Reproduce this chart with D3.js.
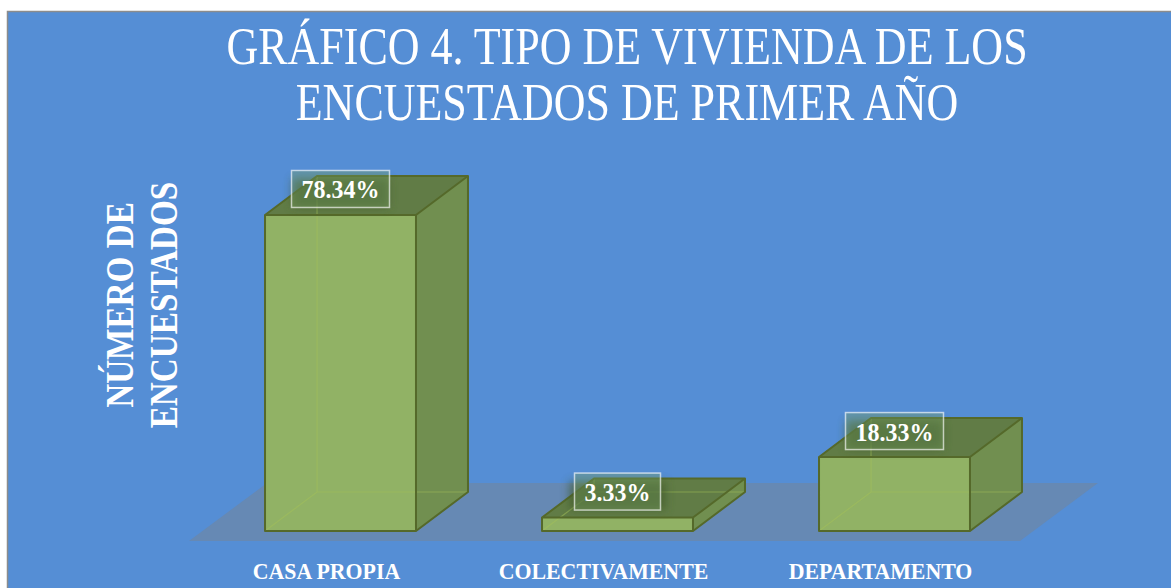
<!DOCTYPE html>
<html>
<head>
<meta charset="utf-8">
<script src="https://cdn.jsdelivr.net/npm/d3@7"></script>
<style>body{margin:0;background:#fff;overflow:hidden;}</style>
</head>
<body>
<script>
// datos
var categories = ["CASA PROPIA", "COLECTIVAMENTE", "DEPARTAMENTO"];
var values = [78.34, 3.33, 18.33];
var titleLines = ["GRÁFICO 4. TIPO DE VIVIENDA DE LOS", "ENCUESTADOS DE PRIMER AÑO"];
var axisTitleLines = ["NÚMERO DE", "ENCUESTADOS"];

var width = 1171, height = 588;
var depthX = 52, depthY = 39;   // profundidad de las barras 3D
var serif = "'Liberation Serif', 'DejaVu Serif', serif";

var svg = d3.select("body").append("svg")
    .attr("width", width)
    .attr("height", height);

var defs = svg.append("defs");
defs.append("filter").attr("id", "blur")
    .attr("x", "-50%").attr("y", "-50%").attr("width", "200%").attr("height", "200%")
  .append("feGaussianBlur").attr("stdDeviation", 5);

// estrecha el texto (la fuente original es mas condensada)
function condense(sel, f) {
    sel.each(function() {
        var w = this.getComputedTextLength();
        d3.select(this).attr("textLength", w * f).attr("lengthAdjust", "spacingAndGlyphs");
    });
}

// fondo del grafico
svg.append("rect")
    .attr("x", 7.5).attr("y", 11.5)
    .attr("width", width + 20).attr("height", height + 20)
    .attr("fill", "#558ed5")
    .attr("stroke", "#8c8c8c")
    .attr("stroke-width", 1.5);

var x = d3.scaleBand()
    .domain(categories)
    .range([202, 1033])
    .paddingInner(0.455)
    .paddingOuter(0.2275);

var y = d3.scaleLinear()
    .domain([0, 100])
    .range([531, 127.6]);

// piso
var x0 = x.range()[0], x1 = x.range()[1], y0 = y(0);
var floor = [[x0 - 13, y0 + 10], [x1 - 13, y0 + 10], [x1 + 65, y0 - 48], [x0 + 65, y0 - 48]];
svg.append("path")
    .attr("d", "M" + floor.join("L") + "Z")
    .attr("fill", "#6689b4");

var bw = x.bandwidth();

var bars = svg.selectAll(".bar")
    .data(categories)
    .enter().append("g")
    .attr("class", "bar");

function poly(pts) { return "M" + pts.join("L") + "Z"; }

bars.each(function(c, i) {
    var g = d3.select(this);
    var l = x(c), r = l + bw, t = y(values[i]), b = y(0);
    // cara superior
    g.append("path")
        .attr("d", poly([[l, t], [r, t], [r + depthX, t - depthY], [l + depthX, t - depthY]]))
        .attr("fill", "#617c46");
    // cara lateral
    g.append("path")
        .attr("d", poly([[r, t], [r + depthX, t - depthY], [r + depthX, b - depthY], [r, b]]))
        .attr("fill", "#718f50");
    // cara frontal
    g.append("rect")
        .attr("x", l).attr("y", t)
        .attr("width", bw).attr("height", b - t)
        .attr("fill", "#91b265");
    // aristas ocultas
    g.append("path")
        .attr("d", "M" + [l, b] + "L" + [l + depthX, b - depthY] + "L" + [r + depthX, b - depthY]
            + "M" + [l + depthX, b - depthY] + "L" + [l + depthX, t - depthY])
        .attr("fill", "none")
        .attr("stroke", "#a3c05a")
        .attr("stroke-opacity", 0.55)
        .attr("stroke-width", 1.2);
    // contorno
    g.append("path")
        .attr("d", "M" + [l, b] + "L" + [l, t] + "L" + [l + depthX, t - depthY] + "L" + [r + depthX, t - depthY]
            + "L" + [r + depthX, b - depthY] + "L" + [r, b] + "Z"
            + "M" + [l, t] + "L" + [r, t] + "L" + [r, b]
            + "M" + [r, t] + "L" + [r + depthX, t - depthY])
        .attr("fill", "none")
        .attr("stroke", "#55692a")
        .attr("stroke-width", 2)
        .attr("stroke-linejoin", "round");

    // etiqueta de valor
    var cx = l + bw / 2, cy = t - 26;
    g.append("rect")
        .attr("x", cx - 48).attr("y", cy - 10)
        .attr("width", 96).attr("height", 28)
        .attr("fill", "#3f5a2c")
        .attr("opacity", 0.7)
        .attr("filter", "url(#blur)");
    var lab = g.append("text")
        .attr("x", cx).attr("y", cy + 9.5)
        .attr("text-anchor", "middle")
        .attr("font-family", serif)
        .attr("font-weight", "bold")
        .attr("font-size", 25)
        .attr("fill", "#fff")
        .text(d3.format(".2f")(values[i]) + "%");
    condense(lab, 0.96);
    var tw = lab.node().getComputedTextLength();
    g.insert("rect", "text")
        .attr("x", cx - tw / 2 - 10).attr("y", cy - 18.5)
        .attr("width", tw + 20).attr("height", 37)
        .attr("fill", "rgba(120,160,100,0.35)")
        .attr("stroke", "rgba(255,255,255,0.65)")
        .attr("stroke-width", 1.5);
});

// etiquetas de categorias
svg.selectAll(".cat")
    .data(categories)
    .enter().append("text")
    .attr("class", "cat")
    .attr("x", function(d) { return x(d) + bw / 2 - 14; })
    .attr("y", 579)
    .attr("text-anchor", "middle")
    .attr("font-family", serif)
    .attr("font-weight", "bold")
    .attr("font-size", 24)
    .attr("fill", "#fff")
    .text(function(d) { return d; })
    .call(condense, 0.91);

// titulo
svg.selectAll(".title")
    .data(titleLines)
    .enter().append("text")
    .attr("class", "title")
    .attr("x", 627)
    .attr("y", function(d, i) { return 64 + i * 56; })
    .attr("text-anchor", "middle")
    .attr("font-family", serif)
    .attr("font-size", 53)
    .attr("fill", "#fff")
    .text(function(d) { return d; })
    .call(condense, 0.83);

// titulo del eje
svg.selectAll(".ytitle")
    .data(axisTitleLines)
    .enter().append("text")
    .attr("class", "ytitle")
    .attr("transform", function(d, i) { return "translate(" + (133 + i * 44) + ",305) rotate(-90)"; })
    .attr("text-anchor", "middle")
    .attr("font-family", serif)
    .attr("font-weight", "bold")
    .attr("font-size", 40)
    .attr("fill", "#fff")
    .text(function(d) { return d; })
    .call(condense, 0.83);
</script>
</body>
</html>
